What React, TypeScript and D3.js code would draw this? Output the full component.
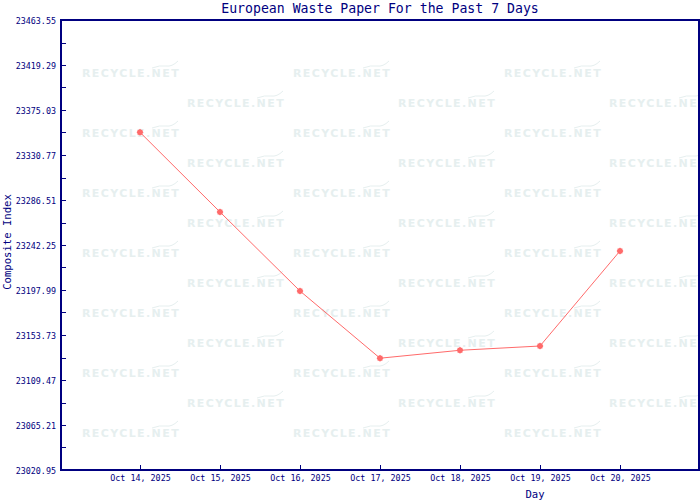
import React, { useEffect, useRef } from 'react';
import * as d3 from 'd3';

const days = ['Oct 14, 2025', 'Oct 15, 2025', 'Oct 16, 2025', 'Oct 17, 2025', 'Oct 18, 2025', 'Oct 19, 2025', 'Oct 20, 2025'];
const values = [23353.1, 23274.7, 23197.0, 23130.9, 23138.7, 23142.9, 23236.4];
const yTicks = ['23020.95', '23065.21', '23109.47', '23153.73', '23197.99', '23242.25', '23286.51', '23330.77', '23375.03', '23419.29', '23463.55'];
const title = 'European Waste Paper For the Past 7 Days';

const NAVY = '#000080';
const MONO = '"DejaVu Sans Mono", "Liberation Mono", monospace';

export default function App() {
  const svgRef = useRef<SVGSVGElement>(null);

  useEffect(() => {
    const svg = d3.select(svgRef.current);
    svg.selectAll('*').remove();

    const width = 700;
    const height = 500;
    const left = 61, right = 699, top = 20, bottom = 470;

    const x = d3.scaleLinear().domain([-1, days.length]).range([left - 1, right + 1]);
    const yMin = +yTicks[0];
    const yMax = +yTicks[yTicks.length - 1];
    const y = d3.scaleLinear().domain([yMin, yMax]).range([bottom, top]);

    svg.append('rect').attr('width', width).attr('height', height).attr('fill', '#fff');

    svg.append('defs').append('clipPath').attr('id', 'plotclip')
      .append('rect').attr('x', left).attr('y', top).attr('width', right - left).attr('height', bottom - top);

    // watermark
    const wm = svg.append('g').attr('clip-path', 'url(#plotclip)');
    for (let r = 0; r < 13; r++) {
      const wy = 73 + r * 30;
      const startX = r % 2 === 0 ? 82 : 187;
      for (let cx = startX; cx < right; cx += 211) {
        wm.append('text')
          .attr('x', cx)
          .attr('y', wy + 4)
          .attr('font-family', '"DejaVu Sans", Verdana, sans-serif')
          .attr('font-weight', 'bold')
          .attr('font-size', 11)
          .attr('letter-spacing', 1.4)
          .attr('fill', '#e6efef')
          .text('RECYCLE.NET');
        wm.append('path')
          .attr('d', `M${cx + 70},${wy - 5} q8,-3 14,-2 q6,1 12,-5`)
          .attr('fill', 'none')
          .attr('stroke', '#e6efef')
          .attr('stroke-width', 1);
      }
    }

    // frame
    svg.append('rect')
      .attr('x', left).attr('y', top)
      .attr('width', right - left).attr('height', bottom - top)
      .attr('fill', 'none').attr('stroke', NAVY).attr('stroke-width', 1.5)
      .attr('shape-rendering', 'crispEdges');

    // y ticks
    yTicks.forEach((t, i) => {
      const ty = Math.round(y(+t)) + 0.5;
      svg.append('line')
        .attr('x1', left).attr('x2', left + 5).attr('y1', ty).attr('y2', ty)
        .attr('stroke', NAVY);
      svg.append('text')
        .attr('x', left - 5).attr('y', ty + 3)
        .attr('text-anchor', 'end')
        .attr('font-family', MONO).attr('font-size', 8.4)
        .attr('fill', NAVY)
        .text(t);
      if (i < yTicks.length - 1) {
        const my = Math.round(y((+t + +yTicks[i + 1]) / 2)) + 0.5;
        svg.append('line')
          .attr('x1', left).attr('x2', left + 5).attr('y1', my).attr('y2', my)
          .attr('stroke', NAVY);
      }
    });

    // x ticks
    days.forEach((d, i) => {
      const tx = Math.round(x(i)) + 0.5;
      svg.append('line')
        .attr('x1', tx).attr('x2', tx).attr('y1', bottom).attr('y2', bottom - 5)
        .attr('stroke', NAVY);
      svg.append('text')
        .attr('x', tx).attr('y', bottom + 11)
        .attr('text-anchor', 'middle')
        .attr('font-family', MONO).attr('font-size', 8.4)
        .attr('fill', NAVY)
        .text(d);
    });

    // title
    svg.append('text')
      .attr('x', 380).attr('y', 13)
      .attr('text-anchor', 'middle')
      .attr('font-family', MONO).attr('font-size', 13.2)
      .attr('fill', NAVY)
      .text(title);

    // axis titles
    svg.append('text')
      .attr('x', 535).attr('y', 498)
      .attr('text-anchor', 'middle')
      .attr('font-family', MONO).attr('font-size', 10.6)
      .attr('fill', NAVY)
      .text('Day');
    svg.append('text')
      .attr('transform', 'translate(11,242) rotate(-90)')
      .attr('text-anchor', 'middle')
      .attr('font-family', MONO).attr('font-size', 10.6)
      .attr('fill', NAVY)
      .text('Composite Index');

    // line
    const line = d3.line<number>().x((_, i) => x(i)).y(v => y(v));
    svg.append('path')
      .datum(values)
      .attr('d', line)
      .attr('fill', 'none')
      .attr('stroke', '#ff6a6a')
      .attr('stroke-width', 1);

    // star-like markers: square + rotated square
    [0, 45].forEach(angle => {
      svg.selectAll(`.pt${angle}`)
        .data(values)
        .enter()
        .append('path')
        .attr('class', `pt${angle}`)
        .attr('d', d3.symbol(d3.symbolSquare, 24)())
        .attr('transform', (v, i) => `translate(${x(i)},${y(v)}) rotate(${angle})`)
        .attr('fill', '#ff6a6a');
    });
  }, []);

  return (
    <svg ref={svgRef} width={700} height={500} style={{ position: 'absolute', left: 0, top: 0 }} />
  );
}
